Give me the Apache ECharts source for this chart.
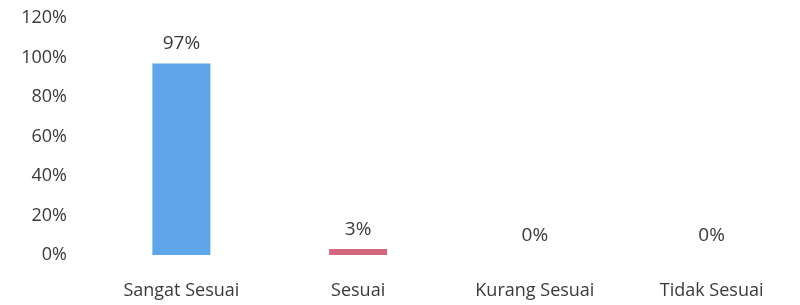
<!DOCTYPE html>
<html>
<head>
<meta charset="utf-8">
<script src="https://cdn.jsdelivr.net/npm/echarts@6/dist/echarts.min.js"></script>
<style>
  html, body { margin: 0; padding: 0; background: #fff; }
  #chart { width: 800px; height: 305px; }
</style>
</head>
<body>
<div id="chart"></div>
<script>
// kategori dan nilai (persen)
const categories = ['Sangat Sesuai', 'Sesuai', 'Kurang Sesuai', 'Tidak Sesuai']
const values = [97, 3, 0, 0]
const barColors = ['#5ea6e8', '#d2677f', '#5ea6e8', '#5ea6e8']

const chart = echarts.init(document.getElementById('chart'))
const font = '"Open Sans", Lato, sans-serif'

const option = {
  animation: false,
  backgroundColor: '#fff',
  grid: {
    left: 93,
    right: 0,
    top: 18,
    bottom: 50
  },
  xAxis: {
    type: 'category',
    data: categories,
    axisLine: { show: false },
    axisTick: { show: false },
    axisLabel: {
      color: '#3a3a3a',
      fontSize: 18,
      fontFamily: font,
      margin: 27
    }
  },
  yAxis: {
    type: 'value',
    min: 0,
    max: 120,
    interval: 20,
    splitLine: { show: false },
    axisLine: { show: false },
    axisTick: { show: false },
    axisLabel: {
      color: '#3a3a3a',
      fontSize: 18,
      fontFamily: font,
      margin: 26,
      formatter: '{value}%'
    }
  },
  series: [
    {
      type: 'bar',
      barWidth: 58,
      data: values.map((v, i) => ({ value: v, itemStyle: { color: barColors[i] } })),
      label: {
        show: true,
        position: 'top',
        distance: 10,
        color: '#3a3a3a',
        fontSize: 19,
        fontFamily: font,
        formatter: '{c}%'
      }
    }
  ]
}
chart.setOption(option)
</script>
</body>
</html>
